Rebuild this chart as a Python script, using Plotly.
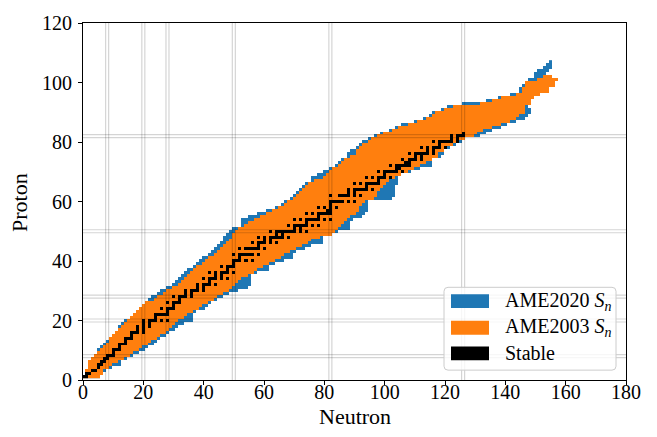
import plotly.graph_objects as go

# ---------------- data ----------------
Z_VALUES = list(range(1, 108))

AME2003_NMIN = [0, 1, 1, 2, 2, 2, 3, 4, 5, 6,
                7, 8, 9, 9, 10, 11, 12, 13, 14, 15,
                16, 17, 18, 19, 20, 21, 24, 25, 27, 28,
                30, 32, 33, 34, 35, 36, 37, 38, 40, 41,
                42, 44, 45, 46, 47, 48, 49, 50, 50, 51,
                52, 54, 55, 57, 59, 61, 63, 65, 67, 68,
                70, 71, 72, 73, 74, 75, 77, 80, 81, 82,
                83, 85, 86, 87, 89, 91, 91, 92, 93, 95,
                96, 98, 100, 103, 105, 108, 111, 114, 116, 117,
                120, 123, 132, 136, 139, 144, 146, 146, 147, 147,
                151, 153, None, None, None, None, None]
AME2003_NMAX = [5, 6, 6, 8, 9, 11, 13, 15, 16, 18,
                19, 21, 22, 24, 25, 27, 28, 29, 30, 31,
                33, 34, 36, 38, 39, 41, 43, 44, 46, 48,
                49, 50, 51, 52, 54, 56, 57, 59, 61, 63,
                65, 66, 68, 70, 72, 74, 75, 78, 82, 83,
                84, 85, 86, 87, 88, 90, 91, 91, 92, 93,
                96, 97, 97, 98, 99, 100, 101, 103, 105, 107,
                109, 111, 113, 115, 117, 117, 119, 120, 122, 123,
                126, 129, 130, 132, 135, 138, 141, 143, 144, 146,
                146, 146, 148, 148, 149, 151, 154, 154, 156, 156,
                157, 155, None, None, None, None, None]
AME2020_NMIN = [0, 1, 1, 2, 2, 2, 3, 4, 5, 5,
                6, 7, 8, 9, 10, 11, 12, 12, 13, 14,
                16, 17, 18, 19, 20, 21, 22, 23, 25, 26,
                28, 30, 31, 32, 33, 34, 35, 37, 38, 39,
                40, 42, 43, 44, 45, 46, 47, 47, 48, 49,
                50, 53, 53, 53, 55, 58, 61, 64, 66, 67,
                69, 70, 71, 72, 73, 74, 76, 76, 78, 80,
                82, 84, 85, 86, 88, 88, 89, 91, 92, 93,
                95, 97, 99, 102, 104, 106, 110, 113, 115, 116,
                119, 121, 126, 134, 138, 142, 145, 145, 146, 147,
                148, 150, 150, 151, 153, 154, 155]
AME2020_NMAX = [5, 6, 7, 9, 12, 12, 14, 16, 18, 20,
                21, 23, 24, 25, 27, 28, 30, 31, 33, 36,
                36, 36, 37, 40, 41, 42, 44, 46, 48, 51,
                54, 55, 55, 55, 55, 57, 61, 61, 63, 66,
                69, 69, 70, 73, 75, 79, 79, 79, 82, 84,
                88, 88, 88, 89, 92, 93, 94, 94, 94, 94,
                102, 103, 103, 103, 103, 104, 104, 104, 105, 108,
                111, 115, 115, 115, 118, 119, 119, 121, 123, 125,
                126, 131, 133, 135, 138, 140, 143, 146, 147, 148,
                148, 147, 148, 148, 149, 151, 152, 152, 152, 152,
                151, 152, 153, 154, 155, 155, 155]

# stable nuclides: neutron numbers for Z = 1, 2, 3, ...
STABLE_N = [
    [0, 1], [1, 2], [3, 4], [5], [5, 6], [6, 7], [7, 8], [8, 9, 10], [10], [10, 11, 12],
    [12], [12, 13, 14], [14], [14, 15, 16], [16], [16, 17, 18, 20], [18, 20], [18, 20, 22],
    [20, 22], [20, 22, 23, 24, 26, 28], [24], [24, 25, 26, 27, 28], [28], [26, 28, 29, 30],
    [30], [28, 30, 31, 32], [32], [30, 32, 33, 34, 36], [34, 36], [34, 36, 37, 38, 40],
    [38, 40], [38, 40, 41, 42, 44], [42], [40, 42, 43, 44, 46, 48], [44, 46],
    [42, 44, 46, 47, 48, 50], [48], [46, 48, 49, 50], [50], [50, 51, 52, 54, 56], [52],
    [50, 52, 53, 54, 55, 56, 58], [], [52, 54, 55, 56, 57, 58, 60], [58],
    [56, 58, 59, 60, 62, 64], [60, 62], [58, 60, 62, 63, 64, 65, 66, 68], [64, 66],
    [62, 64, 65, 66, 67, 68, 69, 70, 72, 74], [70, 72], [68, 70, 71, 72, 73, 74, 76, 78],
    [74], [70, 72, 74, 75, 76, 77, 78, 80, 82], [78], [74, 76, 78, 79, 80, 81, 82],
    [81, 82], [78, 80, 82, 84], [82], [82, 83, 84, 85, 86, 88, 90], [],
    [82, 85, 86, 87, 88, 90, 92], [88, 90], [88, 90, 91, 92, 93, 94, 96], [94],
    [90, 92, 94, 95, 96, 97, 98], [98], [94, 96, 98, 99, 100, 102], [100],
    [98, 100, 101, 102, 103, 104, 106], [104, 105], [102, 104, 105, 106, 107, 108],
    [107, 108], [106, 108, 109, 110, 112], [110, 112], [108, 110, 111, 112, 113, 114, 116],
    [114, 116], [112, 114, 116, 117, 118, 120], [118], [116, 118, 119, 120, 121, 122, 124],
    [122, 124], [122, 124, 125, 126], [126],
]

MAGIC_NUMBERS = [8, 20, 28, 50, 82, 126]
X_TICKS = [0, 20, 40, 60, 80, 100, 120, 140, 160, 180]
Y_TICKS = [0, 20, 40, 60, 80, 100, 120]
LEGEND_LABELS = ["AME2020 <i>S</i><sub><i>n</i></sub>",
                 "AME2003 <i>S</i><sub><i>n</i></sub>",
                 "Stable"]

BLUE = "#1f77b4"
ORANGE = "#ff7f0e"
BLACK = "#000000"
FONT = "Liberation Serif"

N_AXIS = list(range(0, 161))


def band(nmin, nmax):
    rows = []
    for lo, hi in zip(nmin, nmax):
        if lo is None:
            rows.append([None] * len(N_AXIS))
        else:
            rows.append([1 if lo <= n <= hi else None for n in N_AXIS])
    return rows


def stable_rows():
    rows = []
    for i, _z in enumerate(Z_VALUES):
        ns = STABLE_N[i] if i < len(STABLE_N) else []
        rows.append([1 if n in ns else None for n in N_AXIS])
    return rows


def layer(z, color):
    return go.Heatmap(x=N_AXIS, y=Z_VALUES, z=z, zmin=0, zmax=1,
                      colorscale=[[0, color], [1, color]], showscale=False,
                      hoverinfo="skip", zsmooth=False)


fig = go.Figure()
fig.add_trace(layer(band(AME2020_NMIN, AME2020_NMAX), BLUE))
fig.add_trace(layer(band(AME2003_NMIN, AME2003_NMAX), ORANGE))
fig.add_trace(layer(stable_rows(), BLACK))

shapes = []
grid_color = "rgba(0,0,0,0.17)"
for m in MAGIC_NUMBERS:
    for d in (-0.5, 0.5):
        shapes.append(dict(type="line", xref="x", yref="y", x0=m + d, x1=m + d, y0=0, y1=120,
                           line=dict(color=grid_color, width=1.2), layer="above"))
        if m + d < 120:
            shapes.append(dict(type="line", xref="x", yref="y", x0=0, x1=180, y0=m + d, y1=m + d,
                               line=dict(color=grid_color, width=1.2), layer="above"))

# legend box (paper coords), drawn manually to mimic matplotlib
W, H = 543.0, 362.0
x0, x1 = (444 - 83) / W, (616 - 83) / W
y0, y1 = (380 - 370) / H, (380 - 286) / H
rx, ry = 4 / W, 4 / H
path = (f"M {x0+rx},{y0} L {x1-rx},{y0} Q {x1},{y0} {x1},{y0+ry} L {x1},{y1-ry} "
        f"Q {x1},{y1} {x1-rx},{y1} L {x0+rx},{y1} Q {x0},{y1} {x0},{y1-ry} "
        f"L {x0},{y0+ry} Q {x0},{y0} {x0+rx},{y0} Z")
shapes.append(dict(type="path", xref="paper", yref="paper", path=path,
                   fillcolor="rgba(255,255,255,0.8)", line=dict(color="#cccccc", width=1),
                   layer="above"))

annotations = []
patch_tops = [293, 320, 346]
for top, col, lab in zip(patch_tops, [BLUE, ORANGE, BLACK], LEGEND_LABELS):
    shapes.append(dict(type="rect", xref="paper", yref="paper",
                       x0=(451 - 83) / W, x1=(489 - 83) / W,
                       y0=(380 - (top + 14)) / H, y1=(380 - top) / H,
                       fillcolor=col, line=dict(width=0), layer="above"))
    annotations.append(dict(xref="paper", yref="paper", x=(503 - 83) / W,
                            y=(380 - (top + 7)) / H, xanchor="left", yanchor="middle",
                            text=lab, showarrow=False,
                            font=dict(family=FONT, size=20, color="black")))

annotations.append(dict(xref="paper", yref="paper", x=0.5, y=(380 - 402) / H,
                        xanchor="center", yanchor="top", text="Neutron", showarrow=False,
                        font=dict(family=FONT, size=22, color="black")))
annotations.append(dict(xref="paper", yref="paper", x=(19.5 - 83) / W, y=(380 - 200) / H,
                        xanchor="center", yanchor="middle", text="Proton", textangle=-90,
                        showarrow=False, font=dict(family=FONT, size=22, color="black")))

axis_common = dict(showgrid=False, zeroline=False, showline=True, mirror=True,
                   linecolor="black", linewidth=1, ticks="outside", ticklen=4,
                   tickwidth=1, tickcolor="black",
                   tickfont=dict(family=FONT, size=20, color="black"))

fig.update_layout(
    width=657, height=437,
    margin=dict(l=83, r=31, t=18, b=57),
    paper_bgcolor="white", plot_bgcolor="white",
    font=dict(family=FONT, color="black"),
    showlegend=False,
    xaxis=dict(range=[0, 180], tickvals=X_TICKS, ticklabelstandoff=-10, **axis_common),
    yaxis=dict(range=[0, 120], tickvals=Y_TICKS, ticklabelstandoff=2, **axis_common),
    shapes=shapes,
    annotations=annotations,
)

fig.write_html("out.html")
